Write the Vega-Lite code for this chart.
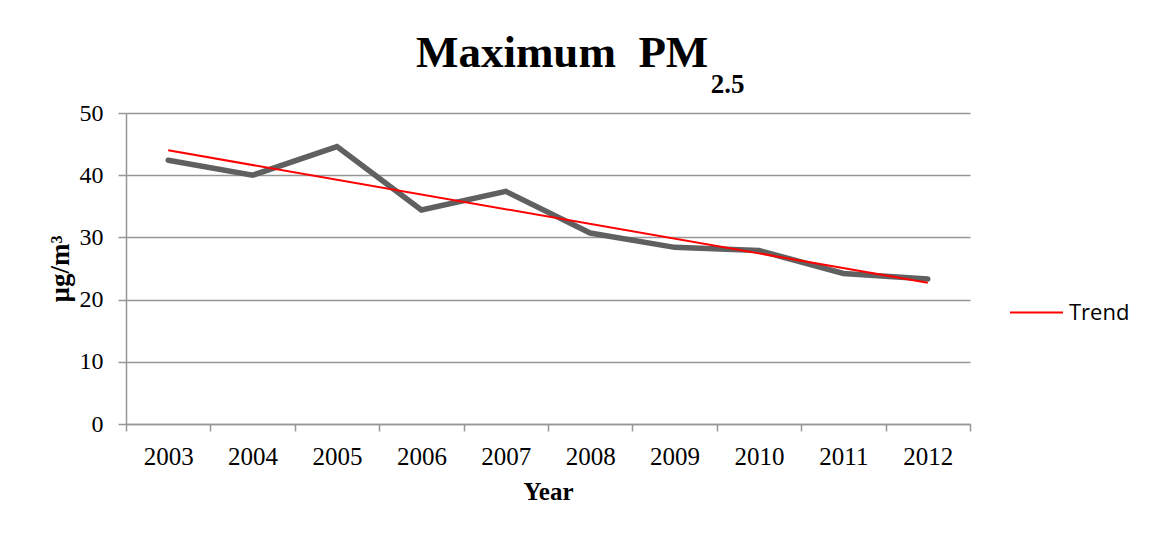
{
  "$schema": "https://vega.github.io/schema/vega-lite/v6.json",
  "width": 844,
  "height": 311,
  "autosize": {"type": "none"},
  "padding": {"left": 126, "top": 113, "right": 185, "bottom": 116},
  "background": "white",
  "title": {
    "text": "Maximum\u00a0\u00a0PM\u00a0\u00a0\u00a0\u200b",
    "subtitle": "\u200b\u00a0\u00a0\u00a0\u00a0\u00a0\u00a0\u00a0\u00a0\u00a0\u00a0\u00a0\u00a0\u00a0\u00a0\u00a0\u00a0\u00a0\u00a0\u00a0\u00a0\u00a0\u00a0\u00a0\u00a0\u00a0\u00a0\u00a0\u00a0\u00a0\u00a0\u00a0\u00a0\u00a0\u00a0\u00a0\u00a0\u00a0\u00a0\u00a0\u00a0\u00a0\u00a0\u00a0\u00a02.5",
    "anchor": "middle",
    "frame": "group",
    "dx": 31,
    "offset": 3,
    "font": "Liberation Serif",
    "fontSize": 45,
    "fontWeight": "bold",
    "color": "#000000",
    "subtitleFont": "Liberation Serif",
    "subtitleFontSize": 27,
    "subtitleFontWeight": "bold",
    "subtitleColor": "#000000",
    "subtitlePadding": -4
  },
  "datasets": {
    "pm": [
      {"year": "2003", "value": 42.4},
      {"year": "2004", "value": 40.0},
      {"year": "2005", "value": 44.6},
      {"year": "2006", "value": 34.4},
      {"year": "2007", "value": 37.4},
      {"year": "2008", "value": 30.7},
      {"year": "2009", "value": 28.4},
      {"year": "2010", "value": 27.9},
      {"year": "2011", "value": 24.2},
      {"year": "2012", "value": 23.3}
    ],
    "trend": [
      {"year": "2003", "value": 44.0, "series": "Trend"},
      {"year": "2012", "value": 22.7, "series": "Trend"}
    ]
  },
  "layer": [
    {
      "data": {"name": "pm"},
      "mark": {"type": "line", "color": "#606060", "strokeWidth": 5.5, "strokeCap": "round", "strokeJoin": "miter"},
      "encoding": {
        "x": {
          "field": "year", "type": "ordinal", "bandPosition": 0.5,
          "scale": {"type": "band", "paddingInner": 0, "paddingOuter": 0,
            "domain": ["2003","2004","2005","2006","2007","2008","2009","2010","2011","2012"]},
          "axis": {
            "title": "Year",
            "labelAngle": 0,
            "tickBand": "extent",
            "grid": false,
            "tickSize": 7,
            "labelPadding": 13,
            "titlePadding": 10,
            "labelFont": "Liberation Serif",
            "labelFontSize": 25,
            "labelColor": "#000000",
            "titleFont": "Liberation Serif",
            "titleFontSize": 25,
            "titleFontWeight": "bold",
            "titleColor": "#000000"
          }
        },
        "y": {
          "field": "value", "type": "quantitative",
          "scale": {"domain": [0, 50], "nice": false, "zero": true},
          "axis": {
            "title": "µg/m³",
            "values": [0, 10, 20, 30, 40, 50],
            "grid": true,
            "tickSize": 8,
            "labelPadding": 15,
            "labelFont": "Liberation Serif",
            "labelFontSize": 24,
            "labelColor": "#000000",
            "titleFont": "Liberation Serif",
            "titleFontSize": 27,
            "titleFontWeight": "bold",
            "titleColor": "#000000",
            "titleAngle": -90,
            "titleX": -66,
            "titleY": 155.5,
            "titleAlign": "center",
            "titleBaseline": "middle"
          }
        }
      }
    },
    {
      "data": {"name": "trend"},
      "mark": {"type": "line", "strokeWidth": 2},
      "encoding": {
        "x": {"field": "year", "type": "ordinal", "bandPosition": 0.5},
        "y": {"field": "value", "type": "quantitative"},
        "color": {
          "field": "series", "type": "nominal",
          "scale": {"domain": ["Trend"], "range": ["#ff0000"]},
          "legend": {
            "title": null,
            "orient": "none",
            "legendX": 883,
            "legendY": 172,
            "padding": 0,
            "symbolType": "stroke",
            "symbolSize": 2809,
            "symbolStrokeWidth": 2,
            "labelOffset": 5,
            "labelFont": "Open Sans",
            "labelFontSize": 22,
            "labelColor": "#000000"
          }
        }
      }
    }
  ],
  "config": {
    "view": {"stroke": null},
    "axis": {
      "domainColor": "#969696",
      "domainWidth": 1.5,
      "tickColor": "#969696",
      "tickWidth": 1.5,
      "gridColor": "#969696",
      "gridWidth": 1.5
    }
  }
}
